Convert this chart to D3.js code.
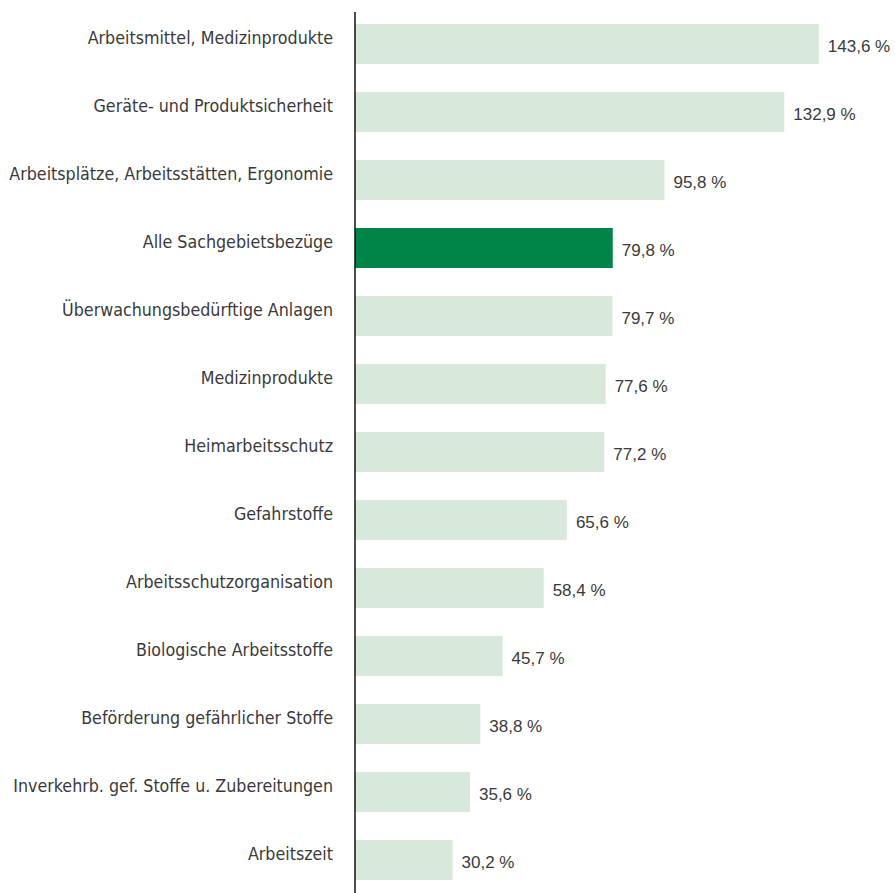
<!DOCTYPE html>
<html>
<head>
<meta charset="utf-8">
<script src="https://cdn.jsdelivr.net/npm/d3@7"></script>
<style>
  body { margin: 0; background: #fff; }
  .cat { font-family: "DejaVu Sans Condensed", "DejaVu Sans", sans-serif; font-stretch: condensed; font-size: 17.7px; fill: #3a3a3a; }
  .val { font-family: "Liberation Sans", Arial, sans-serif; font-size: 17px; fill: #3a3a3a; }
</style>
</head>
<body>
<div class="chart"></div>
<script>
const categories = [
  'Arbeitsmittel, Medizinprodukte',
  'Geräte- und Produktsicherheit',
  'Arbeitsplätze, Arbeitsstätten, Ergonomie',
  'Alle Sachgebietsbezüge',
  'Überwachungsbedürftige Anlagen',
  'Medizinprodukte',
  'Heimarbeitsschutz',
  'Gefahrstoffe',
  'Arbeitsschutzorganisation',
  'Biologische Arbeitsstoffe',
  'Beförderung gefährlicher Stoffe',
  'Inverkehrb. gef. Stoffe u. Zubereitungen',
  'Arbeitszeit'
];
const values = [143.6, 132.9, 95.8, 79.8, 79.7, 77.6, 77.2, 65.6, 58.4, 45.7, 38.8, 35.6, 30.2];
const highlight = 'Alle Sachgebietsbezüge';

const width = 895, height = 893;
const fmt = v => d3.format('.1f')(v).replace('.', ',') + ' %';

let svg = d3.select('.chart')
.append('svg')
.attr('width', width)
.attr('height', height)

let data = categories.map((c, i) => ({cat: c, value: values[i]}));

let y = d3.scaleBand()
.domain(categories)
.range([10, 894])
.paddingInner(28 / 68)
.paddingOuter(14 / 68);

let x = d3.scaleLinear()
.domain([0, 150])
.range([355, 355 + 150 * 3.23]);

svg.selectAll('rect')
.data(data)
.enter()
.append('rect')
.attr('x', x(0))
.attr('y', d => y(d.cat))
.attr('width', d => x(d.value) - x(0))
.attr('height', y.bandwidth())
.attr('fill', d => d.cat == highlight ? '#008548' : '#d8e8db')

// category labels sit a bit above the bar centre
svg.selectAll('text.cat')
.data(data)
.enter()
.append('text')
.attr('class', 'cat')
.attr('x', x(0) - 22)
.attr('y', d => y(d.cat) + y.bandwidth() / 2)
.attr('text-anchor', 'end')
.text(d => d.cat)

svg.selectAll('text.val')
.data(data)
.enter()
.append('text')
.attr('class', 'val')
.attr('x', d => x(d.value) + 9)
.attr('y', d => y(d.cat) + y.bandwidth() / 2 + 8)
.text(d => fmt(d.value))

svg.append('line')
.attr('x1', x(0))
.attr('x2', x(0))
.attr('y1', 12)
.attr('y2', height)
.attr('stroke', '#111')
.attr('stroke-width', 1.5)
</script>
</body>
</html>
